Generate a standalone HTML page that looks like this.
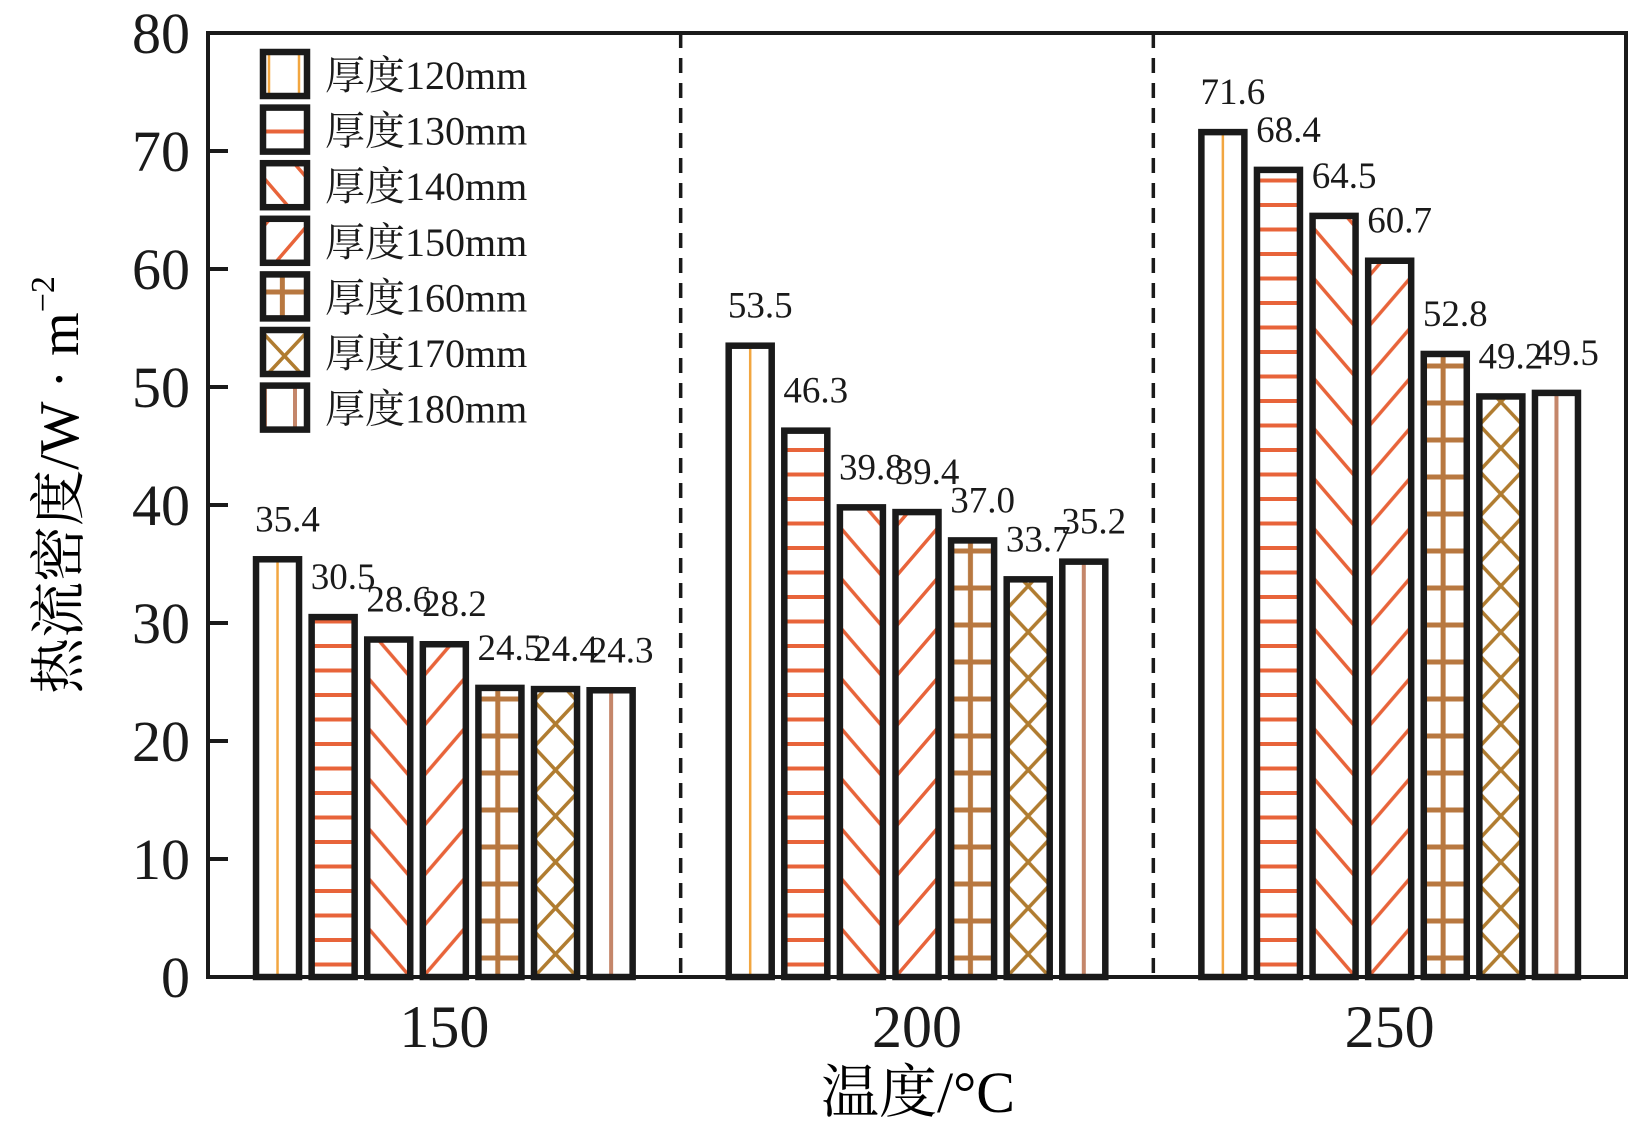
<!DOCTYPE html>
<html><head><meta charset="utf-8">
<style>
html,body{margin:0;padding:0;background:#fff;}
svg{display:block;font-family:"Liberation Serif","Noto Serif CJK SC",serif;}
</style></head>
<body>
<svg id="chart" width="1629" height="1128" viewBox="0 0 1629 1128" xmlns="http://www.w3.org/2000/svg">
<defs id="defs"></defs>
<g id="bars"></g>
<g id="frame"></g>
<g id="labels"></g>
<g id="axes"></g>
<g id="legend"></g>
<text x="918" y="1112" font-size="58" text-anchor="middle">温度/°C</text>
<text transform="translate(78,485) rotate(-90)" font-size="56" text-anchor="middle">热流密度/W · m<tspan font-size="34" dy="-24">−2</tspan></text>
</svg>
<script>
const categories = ["150","200","250"];
const series = ["厚度120mm","厚度130mm","厚度140mm","厚度150mm","厚度160mm","厚度170mm","厚度180mm"];
const values150 = [35.4,30.5,28.6,28.2,24.5,24.4,24.3];
const values200 = [53.5,46.3,39.8,39.4,37.0,33.7,35.2];
const values250 = [71.6,68.4,64.5,60.7,52.8,49.2,49.5];
const valueLabels150 = ["35.4","30.5","28.6","28.2","24.5","24.4","24.3"];
const valueLabels200 = ["53.5","46.3","39.8","39.4","37.0","33.7","35.2"];
const valueLabels250 = ["71.6","68.4","64.5","60.7","52.8","49.2","49.5"];
const yTicks = [0,10,20,30,40,50,60,70,80];

const NS="http://www.w3.org/2000/svg";
const L=208,R=1626,T=33,B=977,yMax=80;
const groupW=(R-L)/categories.length;
const step=55.6, bw=43;
function y(v){return B-(v/yMax)*(B-T);}
function gx(i){return L+groupW*(i+0.5);}
function bx(g,s){return gx(g)+(s-(series.length-1)/2)*step;}
function mk(tag,attrs,parent){const e=document.createElementNS(NS,tag);for(const k in attrs)e.setAttribute(k,attrs[k]);if(parent)parent.appendChild(e);return e;}
const colors=["#f2a640","#e8643a","#e8643a","#e8643a","#b87840","#b07c30","#c4866a"];
const defs=document.getElementById('defs');
let pid=0;
function pattern(s,x0){
  const id='p'+(pid++);
  const c=colors[s];
  let p;
  if(s===1){p=mk('pattern',{id,patternUnits:'userSpaceOnUse',width:60,height:24.5,x:x0,y:B},defs);mk('line',{x1:0,y1:12,x2:60,y2:12,stroke:c,'stroke-width':4},p);}
  else if(s===2){p=mk('pattern',{id,patternUnits:'userSpaceOnUse',width:bw,height:50,x:x0,y:B},defs);
    mk('line',{x1:0,y1:0,x2:bw,y2:50,stroke:c,'stroke-width':3.5},p);mk('line',{x1:-bw,y1:0,x2:0,y2:50,stroke:c,'stroke-width':3.5},p);mk('line',{x1:bw,y1:0,x2:2*bw,y2:50,stroke:c,'stroke-width':3.5},p);}
  else if(s===3){p=mk('pattern',{id,patternUnits:'userSpaceOnUse',width:bw,height:50,x:x0,y:B},defs);
    mk('line',{x1:0,y1:50,x2:bw,y2:0,stroke:c,'stroke-width':3.5},p);mk('line',{x1:-bw,y1:50,x2:0,y2:0,stroke:c,'stroke-width':3.5},p);mk('line',{x1:bw,y1:50,x2:2*bw,y2:0,stroke:c,'stroke-width':3.5},p);}
  else if(s===4){p=mk('pattern',{id,patternUnits:'userSpaceOnUse',width:bw,height:37,x:x0,y:B},defs);
    mk('line',{x1:0,y1:18,x2:bw,y2:18,stroke:c,'stroke-width':5},p);mk('line',{x1:bw*0.45,y1:0,x2:bw*0.45,y2:37,stroke:c,'stroke-width':5},p);}
  else if(s===5){p=mk('pattern',{id,patternUnits:'userSpaceOnUse',width:bw,height:46,x:x0,y:B},defs);
    mk('line',{x1:0,y1:0,x2:bw,y2:46,stroke:c,'stroke-width':3.5},p);mk('line',{x1:0,y1:46,x2:bw,y2:0,stroke:c,'stroke-width':3.5},p);}
  else {return null;}
  return id;
}
const barsG=document.getElementById('bars');
const labelsG=document.getElementById('labels');
const allVals=[values150,values200,values250];
const allLabels=[valueLabels150,valueLabels200,valueLabels250];
categories.forEach((cat,g)=>{
  allVals[g].forEach((v,s)=>{
    const cx=bx(g,s), x0=cx-bw/2, top=y(v);
    const grp=mk('g',{},barsG);
    
    
    const id=pattern(s,x0);
    mk('rect',{x:x0,y:top,width:bw,height:B-top,fill:id?('url(#'+id+')'):'#fff'},grp);
    if(s===0||s===6){mk('line',{x1:cx,y1:top,x2:cx,y2:B,stroke:colors[s],'stroke-width':s===0?2.5:4},grp);}
    mk('rect',{x:x0,y:top,width:bw,height:B-top,fill:'none',stroke:'#1a1a1a','stroke-width':6.5},grp);
    const t=mk('text',{x:cx+10,y:top-28,'font-size':37,'text-anchor':'middle',fill:'#1a1a1a'},labelsG);
    
    
    t.textContent=allLabels[g][s];
  });
});
const fr=document.getElementById('frame');
mk('rect',{x:L,y:T,width:R-L,height:B-T,fill:'none',stroke:'#1a1a1a','stroke-width':4},fr);
for(let i=1;i<categories.length;i++){
  const d=mk('line',{x1:L+groupW*i,y1:T,x2:L+groupW*i,y2:B,stroke:'#1a1a1a','stroke-width':3.5,'stroke-dasharray':'15 10'},fr);
  
  
}
const ax=document.getElementById('axes');
yTicks.forEach(v=>{
  mk('line',{x1:L,y1:y(v),x2:L+20,y2:y(v),stroke:'#1a1a1a','stroke-width':4},ax);
  const t=mk('text',{x:L-18,y:y(v)+20,'font-size':58,'text-anchor':'end',fill:'#1a1a1a'},ax);
  
  
  t.textContent=v;
});
categories.forEach((c,g)=>{
  const t=mk('text',{x:gx(g),y:1047,'font-size':60,'text-anchor':'middle',fill:'#1a1a1a'},ax);
  
  
  t.textContent=c;
});
const lg=document.getElementById('legend');
series.forEach((name,s)=>{
  const ly=52+s*55.6;
  const e=mk('g',{},lg);
  
  
  const lx=263;
  const id=pattern(s,lx);
  mk('rect',{x:lx,y:ly,width:44,height:44,fill:id?('url(#'+id+')'):'#fff'},e);
  if(s===0){mk('line',{x1:lx+6,y1:ly,x2:lx+6,y2:ly+44,stroke:colors[0],'stroke-width':2.5},e);mk('line',{x1:lx+36,y1:ly,x2:lx+36,y2:ly+44,stroke:colors[0],'stroke-width':2.5},e);}
  if(s===6){mk('line',{x1:lx+2,y1:ly,x2:lx+2,y2:ly+44,stroke:colors[6],'stroke-width':4},e);mk('line',{x1:lx+32,y1:ly,x2:lx+32,y2:ly+44,stroke:colors[6],'stroke-width':4},e);}
  mk('rect',{x:lx,y:ly,width:44,height:44,fill:'none',stroke:'#1a1a1a','stroke-width':6.5},e);
  const t=mk('text',{x:325,y:ly+37,'font-size':40,fill:'#1a1a1a'},e);
  t.textContent=name;
});
</script>
</body></html>
